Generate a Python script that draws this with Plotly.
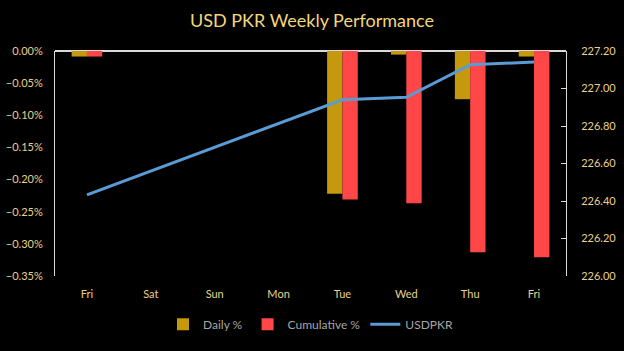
import plotly.graph_objects as go

days = ["Fri", "Sat", "Sun", "Mon", "Tue", "Wed", "Thu", "Fri"]
daily_pct = [-0.0086, None, None, None, -0.222, -0.0056, -0.075, -0.0086]
cumulative_pct = [-0.0086, None, None, None, -0.231, -0.237, -0.313, -0.321]
usdpkr = [226.433, None, None, None, 226.94, 226.953, 227.127, 227.141]

xs = list(range(len(days)))
gold = "#E9D28A"

fig = go.Figure()
fig.add_trace(go.Bar(x=xs, y=[None if v is None else v / 100 for v in daily_pct],
                     name="Daily %", marker=dict(color="#C49A0C", line_width=0)))
fig.add_trace(go.Bar(x=xs, y=[None if v is None else v / 100 for v in cumulative_pct],
                     name="Cumulative %", marker=dict(color="#FF4747", line_width=0)))
fig.add_trace(go.Scatter(x=xs, y=usdpkr, name="USDPKR", yaxis="y2", mode="lines",
                         connectgaps=True, line=dict(color="#5B9BD5", width=3)))

fig.update_layout(
    width=624, height=351,
    paper_bgcolor="black", plot_bgcolor="black",
    margin=dict(l=55, r=58, t=51, b=69),
    font=dict(family="Lato", color=gold, size=11),
    title=dict(text="USD PKR Weekly Performance", x=0.5, xanchor="center",
               y=0.94, yanchor="middle", font=dict(size=18, color="#F4D77A")),
    barmode="group", bargap=0.52, bargroupgap=0,
    showlegend=True,
    legend=dict(orientation="h", x=0.5, xanchor="center", y=-0.15, yanchor="top",
                font=dict(color="#A6A6A6", size=12), bgcolor="rgba(0,0,0,0)",
                traceorder="normal"),
    xaxis=dict(tickmode="array", tickvals=xs, ticktext=days, range=[-0.5, len(days) - 0.5],
               showgrid=False, showline=False, zeroline=False, ticks="",
               automargin=False, ticklabelstandoff=10, tickfont=dict(color=gold, size=11)),
    yaxis=dict(range=[-0.0035, 0], tickformat=".2%", dtick=0.0005, showgrid=False,
               zeroline=True, zerolinecolor="#D9D9D9", zerolinewidth=1.5,
               showline=True, linecolor="#D9D9D9", linewidth=1, ticks="",
               automargin=False, ticklabelstandoff=9, tickfont=dict(color=gold, size=11)),
    yaxis2=dict(range=[226.0, 227.2], overlaying="y", side="right", tickformat=".2f",
                dtick=0.2, showgrid=False, zeroline=False, showline=True,
                linecolor="#D9D9D9", linewidth=1, ticks="inside", ticklen=5,
                tickcolor="#D9D9D9", automargin=False, ticklabelstandoff=12,
                tickfont=dict(color=gold, size=11)),
)

fig.write_html("out.html")
